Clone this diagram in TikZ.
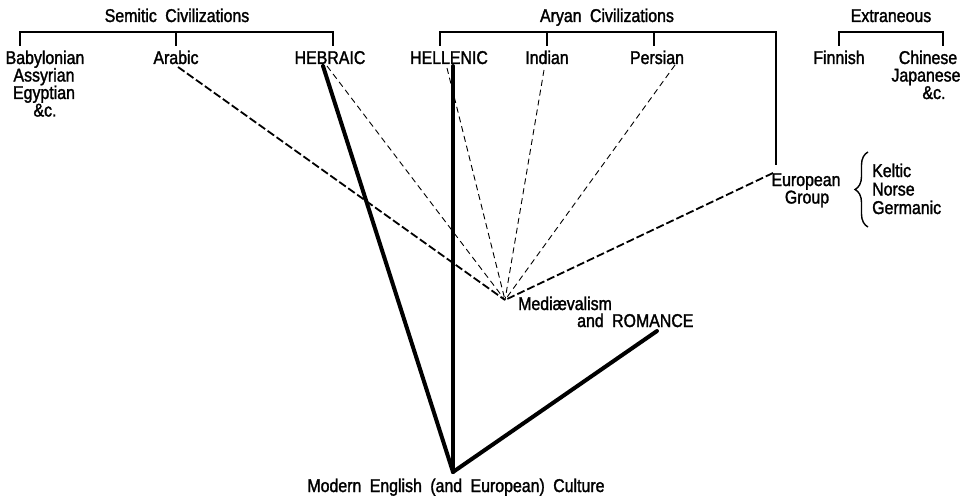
\documentclass[tikz,border=0pt]{standalone}
\usepackage{fontspec}
\setmainfont{Liberation Sans}[FakeStretch=0.86, FakeBold=1.6, WordSpace=1.9]
\usetikzlibrary{decorations.pathreplacing}
\begin{document}
\begin{tikzpicture}[x=1pt,y=-1pt,
  lab/.style={inner sep=0pt, anchor=base, font=\fontsize{18.5}{20}\selectfont},
  labw/.style={lab, anchor=base west},
  bracketline/.style={line width=1.5pt, line cap=butt, line join=miter},
  heavy/.style={line width=4pt, line cap=round},
  thindash/.style={line width=0.9pt, dash pattern=on 6pt off 4pt},
  bolddash/.style={line width=1.8pt, dash pattern=on 8pt off 3pt}]
\useasboundingbox (0,0) rectangle (970,503);
% titles
\node[lab] (semitic) at (177,22) {Semitic Civilizations};
\node[lab] (aryan) at (607,22) {Aryan Civilizations};
\node[lab] (extraneous) at (891,22) {Extraneous};
% first row
\node[lab] (bab) at (45,64) {Babylonian};
\node[lab] (assyr) at (44,81.5) {Assyrian};
\node[lab] (egypt) at (44,99) {Egyptian};
\node[lab] (babc) at (45,116.5) {\&c.};
\node[lab] (arabic) at (176,64) {Arabic};
\node[lab] (hebraic) at (330,64) {HEBRAIC};
\node[lab] (hellenic) at (449,64) {HELLENIC};
\node[lab] (indian) at (547,64) {Indian};
\node[lab] (persian) at (657,64) {Persian};
\node[lab] (finnish) at (839,64) {Finnish};
\node[lab] (chinese) at (928,64) {Chinese};
\node[lab] (japanese) at (926,81.5) {Japanese};
\node[lab] (chc) at (934,99) {\&c.};
% european group
\node[lab] (european) at (806,186) {European};
\node[lab] (group) at (807,203.5) {Group};
\node[labw] (keltic) at (872,177) {Keltic};
\node[labw] (norse) at (872,195.5) {Norse};
\node[labw] (germanic) at (872,214) {Germanic};
% medievalism, modern
\node[labw] (medi) at (518,310) {Mediævalism};
\node[labw] (romance) at (577,327) {and ROMANCE};
\node[lab] (modern) at (456,492) {Modern English (and European) Culture};
% brackets
\draw[bracketline] (20,46) -- (20,32) -- (333,32) -- (333,46);
\draw[bracketline] (176,32) -- (176,46);
\draw[bracketline] (440,46) -- (440,32) -- (776,32) -- (776,165);
\draw[bracketline] (547,32) -- (547,46);
\draw[bracketline] (654,32) -- (654,46);
\draw[bracketline] (839,46) -- (839,32) -- (943,32) -- (943,46);
\draw[line width=1.4pt, decorate, decoration={brace, amplitude=13pt}] (868,227) -- (868,152);
% connector end points
\coordinate (apex) at (453,472);
\coordinate (conv) at (505,300);
\coordinate (hebT) at (323,66);
\coordinate (helT) at (453,66);
\coordinate (romT) at (657,331);
\coordinate (arabT) at (178,67);
\coordinate (hebD) at (327,66);
\coordinate (helD) at (447,68);
\coordinate (indD) at (544,70);
\coordinate (perD) at (675,65);
\coordinate (eurD) at (773,173);
% heavy lines
\draw[heavy] (hebT) -- (apex);
\draw[heavy] (helT) -- (apex);
\draw[heavy] (romT) -- (apex);
% dashed lines
\draw[bolddash] (arabT) -- (conv);
\draw[bolddash] (eurD) -- (conv);
\draw[thindash] (hebD) -- (conv);
\draw[thindash] (helD) -- (conv);
\draw[thindash] (indD) -- (conv);
\draw[thindash] (perD) -- (conv);
\end{tikzpicture}
\end{document}
